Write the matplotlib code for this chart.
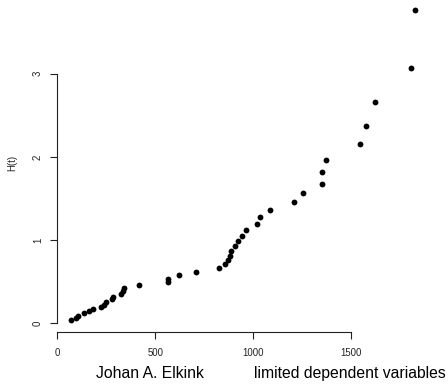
import matplotlib.pyplot as plt

# survival times and cumulative hazard estimates
time = [70, 95, 107, 136, 163, 181, 225, 240, 251, 281, 286, 327, 334, 343,
        415, 567, 568, 623, 706, 825, 855, 872, 882, 889, 908, 925, 945, 965,
        1021, 1034, 1086, 1210, 1256, 1350, 1352, 1374, 1547, 1575, 1623,
        1806, 1827]
hazard = [0.040, 0.067, 0.088, 0.120, 0.144, 0.169, 0.196, 0.222, 0.252,
          0.298, 0.322, 0.358, 0.391, 0.424, 0.463, 0.496, 0.538, 0.578,
          0.620, 0.667, 0.713, 0.761, 0.815, 0.865, 0.925, 0.986, 1.049,
          1.118, 1.194, 1.274, 1.362, 1.454, 1.563, 1.678, 1.815, 1.966,
          2.151, 2.375, 2.663, 3.069, 3.766]
xticks = [0, 500, 1000, 1500]
yticks = [0, 1, 2, 3]

plt.rcParams['font.family'] = ['Liberation Sans', 'DejaVu Sans']

W, H = 448, 388
fig = plt.figure(figsize=(W / 100, H / 100), dpi=100)
ax = fig.add_axes([56.9 / W, (H - 332.4) / H, (428.3 - 56.9) / W, (332.4 + 2.4) / H])

ax.plot(time, hazard, 'o', color='black', markersize=4.2, markeredgewidth=0)

ax.set_xlim(-2, 1895)
ax.set_ylim(-0.109, 3.915)

for side in ['top', 'right']:
    ax.spines[side].set_visible(False)
ax.spines['left'].set_bounds(0, 3)
ax.spines['bottom'].set_bounds(0, 1500)
for side in ['left', 'bottom']:
    ax.spines[side].set_linewidth(0.8)
    ax.spines[side].set_color('#222222')

ax.set_xticks(xticks)
ax.set_yticks(yticks)
ax.tick_params(axis='both', length=5, width=0.8, color='#222222',
               labelsize=6.9, labelcolor='#222222')
ax.tick_params(axis='x', pad=6.0)
ax.tick_params(axis='y', pad=5.0)
plt.setp(ax.get_yticklabels(), rotation=90, va='center')

fig.text(12 / W, 1 - 163 / H, 'H(t)', rotation=90, fontsize=6.9,
         ha='center', va='center', color='#222222')

# footer line
fig.text(96 / W, 1 - 377.7 / H, 'Johan A. Elkink', fontsize=11.3,
         ha='left', va='baseline')
fig.text(254.3 / W, 1 - 377.7 / H, 'limited dependent variables', fontsize=11.3,
         ha='left', va='baseline')

fig.savefig('out.png', dpi=100)
